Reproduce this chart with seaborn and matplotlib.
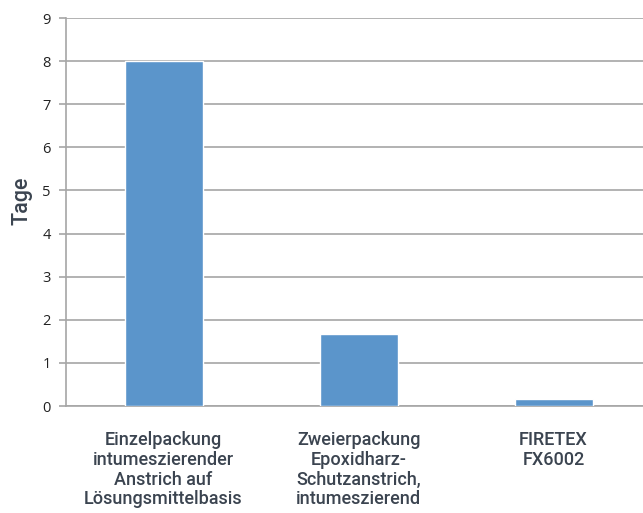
import matplotlib
matplotlib.use("Agg")
import matplotlib.pyplot as plt
import seaborn as sns
import pandas as pd

# ─── Data ────────────────────────────────────────────────────────────────────
categories = [
    "Einzelpackung\nintumeszierender\nAnstrich auf\nLösungsmittelbasis",
    "Zweierpackung\nEpoxidharz-\nSchutzanstrich,\nintumeszierend",
    "FIRETEX\nFX6002",
]
tage = [8.0, 1.67, 0.16]
y_ticks = list(range(0, 10))

BAR_COLOR = "#5b95cb"
GRID_COLOR = "#a6a6a6"
TEXT_COLOR = "#3b4450"

sns.set_theme(style="white")
plt.rcParams["font.family"] = ["Roboto", "DejaVu Sans"]

df = pd.DataFrame({"Kategorie": categories, "Tage": tage})

fig = plt.figure(figsize=(6.43, 5.13), dpi=100)
ax = fig.add_axes([66 / 643, 107 / 513, 585 / 643, 388 / 513])

sns.barplot(data=df, x="Kategorie", y="Tage", color=BAR_COLOR, width=0.4,
            saturation=1, ax=ax, zorder=3)

ax.set_ylim(0, 9)
ax.set_xlim(-0.5, 2.5)
ax.set_yticks(y_ticks)
ax.set_yticklabels([str(t) for t in y_ticks], fontsize=10.5, color="#222222",
                   family=["Open Sans", "DejaVu Sans"])
ax.yaxis.grid(True, color=GRID_COLOR, linewidth=1.2, zorder=0)
ax.set_axisbelow(True)

ax.set_xticks(range(len(categories)))
ax.set_xticklabels(categories, fontsize=13, color=TEXT_COLOR, linespacing=1.13,
                   fontweight="medium")
ax.tick_params(axis="x", length=0, pad=18)
ax.set_xticks([0.5, 1.5], minor=True)
ax.tick_params(axis="x", which="minor", length=5, width=1.2, color=GRID_COLOR, direction="out")
ax.tick_params(axis="y", length=5, width=1.2, color=GRID_COLOR, direction="out", left=True, pad=6)

for side in ["top", "right"]:
    ax.spines[side].set_visible(False)
for side in ["left", "bottom"]:
    ax.spines[side].set_color(GRID_COLOR)
    ax.spines[side].set_linewidth(1.2)

ax.set_xlabel("")
ax.set_ylabel("Tage", fontsize=15.5, color=TEXT_COLOR, fontweight="medium")
ax.yaxis.set_label_coords(-0.057, 0.53)

fig.savefig("out.png", dpi=100)
plt.close(fig)
